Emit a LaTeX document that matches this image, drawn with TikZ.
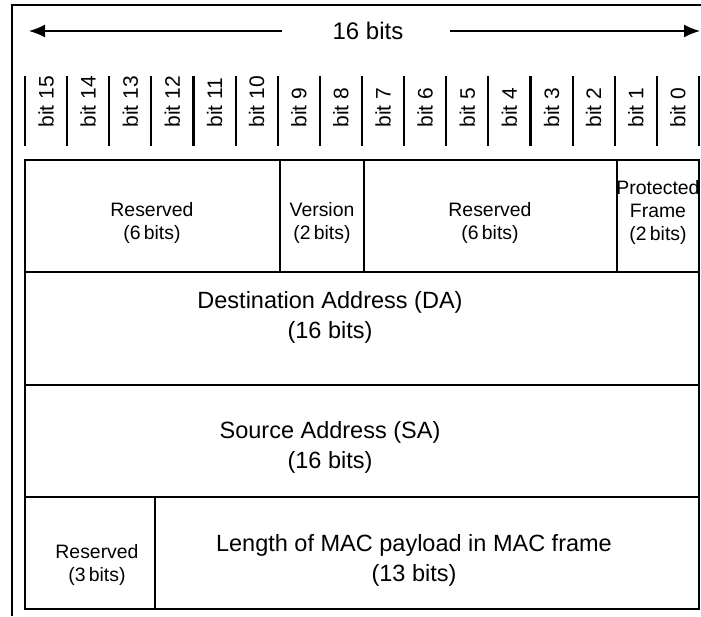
\documentclass[tikz,border=0pt]{standalone}
\usepackage{fontspec}
\setmainfont{Liberation Sans}
\usetikzlibrary{arrows.meta}
\begin{document}
\begin{tikzpicture}[x=0.5pt,y=-0.5pt,
	field/.style={align=center,inner sep=0pt,font=\fontsize{9.7}{11.5}\selectfont},
	bigfield/.style={align=center,inner sep=0pt,font=\fontsize{11.75}{15}\selectfont},
	bitlabel/.style={rotate=90,anchor=west,inner sep=0pt,font=\fontsize{10.5}{12}\selectfont},
	rule/.style={line width=1pt},
	dimline/.style={line width=0.75pt,-{Latex[length=8pt,width=6.5pt]}}]
	\useasboundingbox (0,0) rectangle (701,616);
	\draw[rule, line width=1.25pt] (12,616) -- (12,5) -- (701,5);
	% width arrow
	\node (width) at (368,31)	[inner sep=0pt, font=\fontsize{12}{14}\selectfont]	{16 bits};
	\coordinate (lefttip) at (29,31);
	\coordinate (righttip) at (700,31);
	\draw[dimline] ([xshift=-25pt]width.west) -- (lefttip);
	\draw[dimline] ([xshift=23pt]width.east) -- (righttip);
	% bit columns
	\foreach \k in {0,...,16}
		\draw[rule, line width=1.1pt] ({25+42.125*\k},76) -- ({25+42.125*\k},146);
	\foreach \k [evaluate=\k as \b using int(15-\k)] in {0,...,15}
		\node (bit\b) at ({46+42.125*\k},128)	[bitlabel]	{bit \b};
	% header rows
	\draw[rule] (25,160) rectangle (280,272);
	\draw[rule] (280,160) rectangle (364,272);
	\draw[rule] (364,160) rectangle (617,272);
	\draw[rule] (617,160) rectangle (699,272);
	\draw[rule] (25,272) rectangle (699,385);
	\draw[rule] (25,385) rectangle (699,497);
	\draw[rule] (25,497) rectangle (155,609);
	\draw[rule] (155,497) rectangle (699,609);
	\node (res1) at (152,223)	[field]	{Reserved\\(6\,bits)};
	\node (ver) at (322,223)	[field]	{Version\\(2\,bits)};
	\node (res2) at (490,223)	[field]	{Reserved\\(6\,bits)};
	\node (prot) at (658,212)	[field]	{Protected\\Frame\\(2\,bits)};
	\node (da) at (330,317)	[bigfield]	{Destination Address (DA)\\(16 bits)};
	\node (sa) at (330,447)	[bigfield]	{Source Address (SA)\\(16 bits)};
	\node (res3) at (97,565)	[field]	{Reserved\\(3\,bits)};
	\node (len) at (414,560)	[bigfield]	{Length of MAC payload in MAC frame\\(13 bits)};
\end{tikzpicture}
\end{document}
